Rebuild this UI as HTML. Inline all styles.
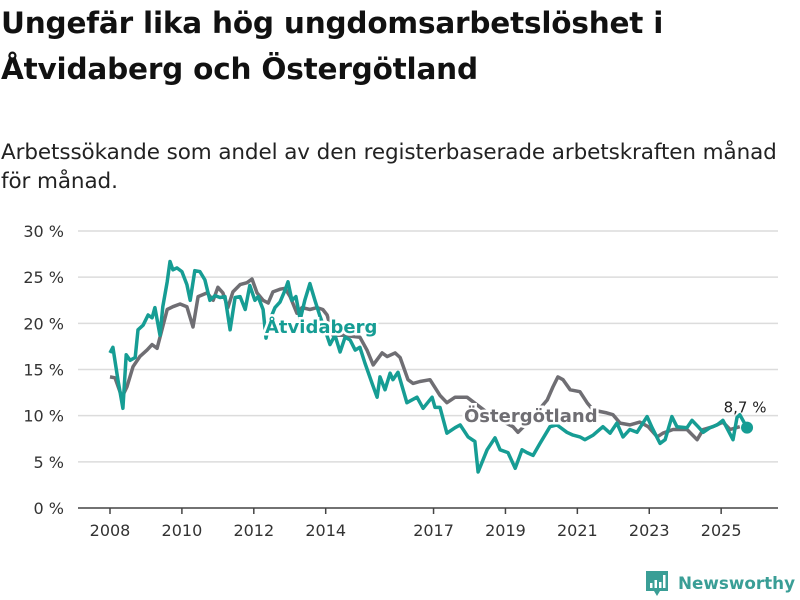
<!DOCTYPE html>
<html><head><meta charset="utf-8"><style>
body{margin:0;background:#fff;width:800px;height:600px;overflow:hidden;font-family:"DejaVu Sans","Liberation Sans",sans-serif;}
h1{position:absolute;left:1px;top:0px;margin:0;font-size:29.5px;line-height:46px;font-weight:bold;color:#111;letter-spacing:-0.2px;}
p.sub{position:absolute;left:1px;top:138px;margin:0;font-size:21.5px;line-height:29px;color:#222;letter-spacing:-0.1px;}
svg{position:absolute;left:0;top:0;font-family:"DejaVu Sans","Liberation Sans",sans-serif;}
</style></head><body>
<h1>Ungefär lika hög ungdomsarbetslöshet i<br>Åtvidaberg och Östergötland</h1>
<p class="sub">Arbetssökande som andel av den registerbaserade arbetskraften månad<br>för månad.</p>
<svg id="chart" width="800" height="600"></svg>
<script>
const yTicks=[0,5,10,15,20,25,30];
const xTicks=[2008,2010,2012,2014,2017,2019,2021,2023,2025];
const atvDates=[2008.00,2008.08,2008.22,2008.36,2008.45,2008.56,2008.70,2008.78,2008.92,2009.06,2009.17,2009.25,2009.39,2009.47,2009.59,2009.67,2009.75,2009.86,2010.00,2010.14,2010.23,2010.36,2010.50,2010.64,2010.78,2010.92,2011.06,2011.20,2011.34,2011.48,2011.62,2011.76,2011.89,2012.03,2012.12,2012.26,2012.34,2012.45,2012.59,2012.73,2012.87,2012.95,2013.06,2013.17,2013.29,2013.42,2013.56,2013.70,2013.84,2013.98,2014.12,2014.26,2014.40,2014.54,2014.68,2014.82,2014.95,2015.09,2015.29,2015.43,2015.51,2015.65,2015.79,2015.87,2016.01,2016.26,2016.54,2016.71,2016.96,2017.04,2017.18,2017.37,2017.60,2017.74,2017.96,2018.15,2018.24,2018.49,2018.71,2018.85,2019.07,2019.27,2019.46,2019.60,2019.77,2019.96,2020.24,2020.43,2020.71,2020.88,2021.07,2021.21,2021.44,2021.71,2021.91,2022.10,2022.27,2022.46,2022.66,2022.94,2023.08,2023.30,2023.44,2023.63,2023.77,2024.05,2024.19,2024.36,2024.50,2024.69,2024.89,2025.05,2025.33,2025.44,2025.52,2025.72];
const atvValues=[16.8,17.4,13.9,10.8,16.6,16.0,16.3,19.3,19.8,20.9,20.6,21.7,18.7,21.8,24.5,26.7,25.8,26.0,25.6,24.2,22.5,25.7,25.6,24.7,22.5,23.0,22.8,22.9,19.3,22.8,22.9,21.5,24.1,22.5,22.9,21.5,18.4,20.4,21.7,22.3,23.6,24.5,22.5,22.9,20.4,22.5,24.3,22.5,20.8,19.3,17.7,18.7,16.9,18.5,18.2,17.1,17.4,15.7,13.5,12.0,14.2,12.8,14.6,13.9,14.7,11.4,12.0,10.8,12.0,10.9,10.9,8.1,8.7,9.0,7.7,7.2,3.9,6.3,7.6,6.3,6.0,4.3,6.3,6.0,5.7,7.0,8.8,9.0,8.2,7.9,7.7,7.4,7.9,8.8,8.1,9.2,7.7,8.5,8.2,9.9,8.7,7.0,7.4,9.9,8.8,8.7,9.5,8.8,8.2,8.7,9.0,9.5,7.4,9.8,10.1,8.7];
const ostDates=[2008.00,2008.14,2008.33,2008.47,2008.64,2008.83,2009.03,2009.17,2009.31,2009.39,2009.59,2009.75,2009.95,2010.14,2010.31,2010.45,2010.70,2010.87,2011.00,2011.14,2011.28,2011.42,2011.62,2011.81,2011.95,2012.09,2012.26,2012.40,2012.53,2012.73,2012.87,2013.01,2013.20,2013.34,2013.56,2013.76,2013.92,2014.04,2014.20,2014.48,2014.95,2015.15,2015.32,2015.57,2015.71,2015.93,2016.07,2016.29,2016.43,2016.62,2016.90,2017.18,2017.37,2017.60,2017.93,2018.57,2019.21,2019.35,2019.68,2020.16,2020.32,2020.46,2020.60,2020.80,2021.07,2021.27,2021.44,2021.82,2021.99,2022.19,2022.46,2022.74,2022.97,2023.22,2023.38,2023.66,2024.05,2024.33,2024.50,2024.77,2025.05,2025.25,2025.52];
const ostValues=[14.2,14.1,12.0,13.1,15.3,16.4,17.1,17.7,17.3,18.5,21.5,21.8,22.1,21.8,19.6,22.9,23.3,22.5,23.9,23.3,21.7,23.4,24.2,24.4,24.8,23.3,22.5,22.2,23.4,23.7,23.8,22.9,21.1,21.7,21.5,21.7,21.5,20.9,18.7,18.7,18.5,17.1,15.5,16.8,16.4,16.8,16.3,13.9,13.5,13.7,13.9,12.2,11.4,12.0,12.0,10.1,8.8,8.2,9.5,11.7,13.1,14.2,13.9,12.8,12.6,11.4,10.6,10.3,10.1,9.2,9.0,9.3,8.8,7.7,8.1,8.5,8.5,7.4,8.5,8.8,9.3,8.5,8.8];
const lastLabel="8,7 %";

const NS="http://www.w3.org/2000/svg";
const svg=document.getElementById('chart');
const X=t=>110+(t-2008)*35.95;
const Y=v=>508-v*9.233;
function mk(tag,attrs,parent){const e=document.createElementNS(NS,tag);for(const k in attrs)e.setAttribute(k,attrs[k]);(parent||svg).appendChild(e);return e;}
yTicks.forEach(v=>{
  if(v>0){const g=mk('line',{x1:78,x2:778,y1:Y(v),y2:Y(v),stroke:'#dcdcdc','stroke-width':1.5});
  
  }
  const t=mk('text',{x:64,y:Y(v)+6,'text-anchor':'end','font-size':16,fill:'#333'});
  t.textContent=v+' %';
  
  
});
const ax=mk('line',{x1:78,x2:778,y1:508,y2:508,stroke:'#444','stroke-width':1.5});


xTicks.forEach(y=>{
  const tk=mk('line',{x1:X(y),x2:X(y),y1:508,y2:514,stroke:'#444','stroke-width':1.5});
  
  
  const t=mk('text',{x:X(y),y:536,'text-anchor':'middle','font-size':16,fill:'#333'});
  t.textContent=y;
  
  
});
function path(d,v){return d.map((t,i)=>(i?'L':'M')+X(t).toFixed(1)+' '+Y(v[i]).toFixed(1)).join(' ');}
const og=mk('path',{d:path(ostDates,ostValues),fill:'none',stroke:'#6f6e73','stroke-width':3.5,'stroke-linejoin':'round'});


const at=mk('path',{d:path(atvDates,atvValues),fill:'none',stroke:'#169d94','stroke-width':3.5,'stroke-linejoin':'round'});


const n=atvDates.length-1;
const dot=mk('circle',{cx:X(atvDates[n]),cy:Y(atvValues[n]),r:6,fill:'#169d94'});


const lv=mk('text',{x:X(atvDates[n])-2,y:Y(atvValues[n])-15,'text-anchor':'middle','font-size':15,fill:'#222'});
lv.textContent=lastLabel;


const l1=mk('text',{x:265,y:333,'font-size':18,'font-weight':'bold',fill:'#169d94',stroke:'#fff','stroke-width':5,'paint-order':'stroke'});
l1.textContent='Åtvidaberg';


const l2=mk('text',{x:464,y:422,'font-size':18,'font-weight':'bold',fill:'#6f6e73',stroke:'#fff','stroke-width':5,'paint-order':'stroke'});
l2.textContent='Östergötland';


</script>
<svg width="800" height="600" style="pointer-events:none">
<path d="M646 571h22v20h-8l-3 5-3-5h-8z" fill="#3a9e96"/>
<rect x="650" y="583" width="2.5" height="5" fill="#fff"/><rect x="654.5" y="580" width="2.5" height="8" fill="#fff"/><rect x="659" y="582" width="2.5" height="6" fill="#fff"/><rect x="663" y="575" width="2.5" height="13" fill="#fff"/>
<text x="678" y="589" font-size="17" font-weight="bold" fill="#3a9e96" textLength="117" lengthAdjust="spacingAndGlyphs">Newsworthy</text>
</svg>
</body></html>
